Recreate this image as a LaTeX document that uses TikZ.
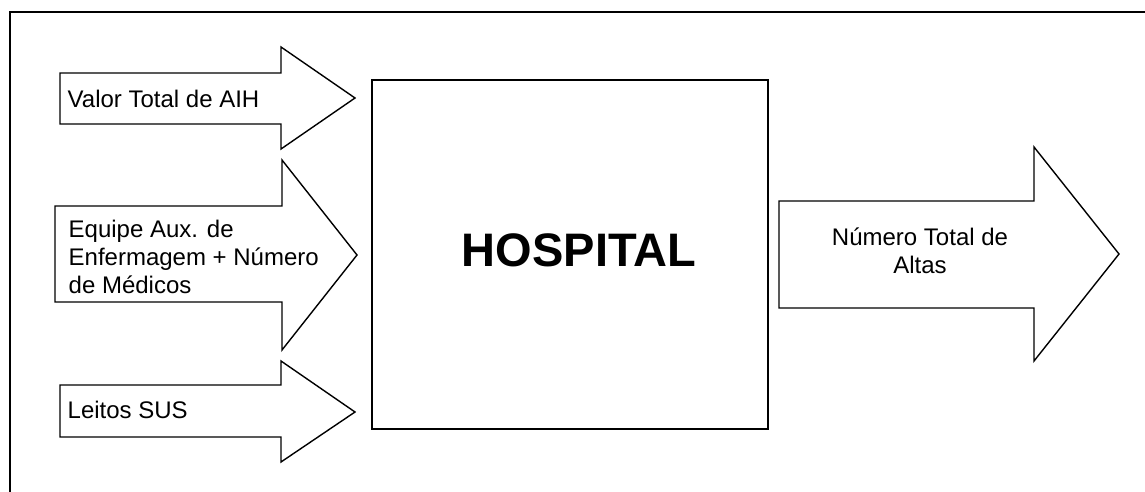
\documentclass[tikz,border=0pt]{standalone}
\usepackage{fontspec}
\setmainfont{Liberation Sans}
\usetikzlibrary{positioning}

\begin{document}
\begin{tikzpicture}[
    x=0.5pt, y=-0.5pt, % one unit = one pixel of the layout, y pointing down
    line width=0.7pt,
    blockarrow/.style={draw, line join=miter}, % Style for the block arrows
    label/.style={inner sep=0pt, font=\fontsize{12}{14}\selectfont}, % Style for arrow texts
    unit/.style={draw, minimum width=198pt, minimum height=174.5pt}, % Style for the central box
    title/.style={inner sep=0pt, font=\fontsize{23.5}{28}\selectfont\bfseries} % Style for its name
]

    % Page size and outer frame (cut at right and bottom)
    \useasboundingbox (0,0) rectangle (1145,492);
    \coordinate (frameB) at (10,492);
    \coordinate (frameTL) at (10,12);
    \coordinate (frameR) at (1145,12);
    \draw (frameB) -- (frameTL) -- (frameR);

    % Central box
    \node[unit] (hospital) at (570,254.5) {};
    \node[title] (hosptext) at (579,250.5) {HOSPITAL};

    % Input arrows
    \draw[blockarrow] (60,73) -- (281,73) -- (281,47) -- (355,98)
        -- (281,149) -- (281,124) -- (60,124) -- cycle;
    \draw[blockarrow] (55,206) -- (282,206) -- (282,160) -- (357,255)
        -- (282,350) -- (282,302) -- (55,302) -- cycle;
    \draw[blockarrow] (60,385) -- (281,385) -- (281,361) -- (355,412)
        -- (281,462) -- (281,437) -- (60,437) -- cycle;

    % Output arrow
    \draw[blockarrow] (779,201) -- (1034,201) -- (1034,147) -- (1119,254)
        -- (1034,361) -- (1034,308) -- (779,308) -- cycle;

    % Texts on the arrows
    \node[label, anchor=base west] (valor) at (67,108) {Valor Total de AIH};
    \node[label, anchor=west, align=left] (equipe) at (68,257)
        {Equipe Aux. de\\Enfermagem + Número\\de Médicos};
    \node[label, anchor=base west] (leitos) at (67,418) {Leitos SUS};
    \node[label, align=center] (altas) at (920,251) {Número Total de\\Altas};

\end{tikzpicture}
\end{document}
